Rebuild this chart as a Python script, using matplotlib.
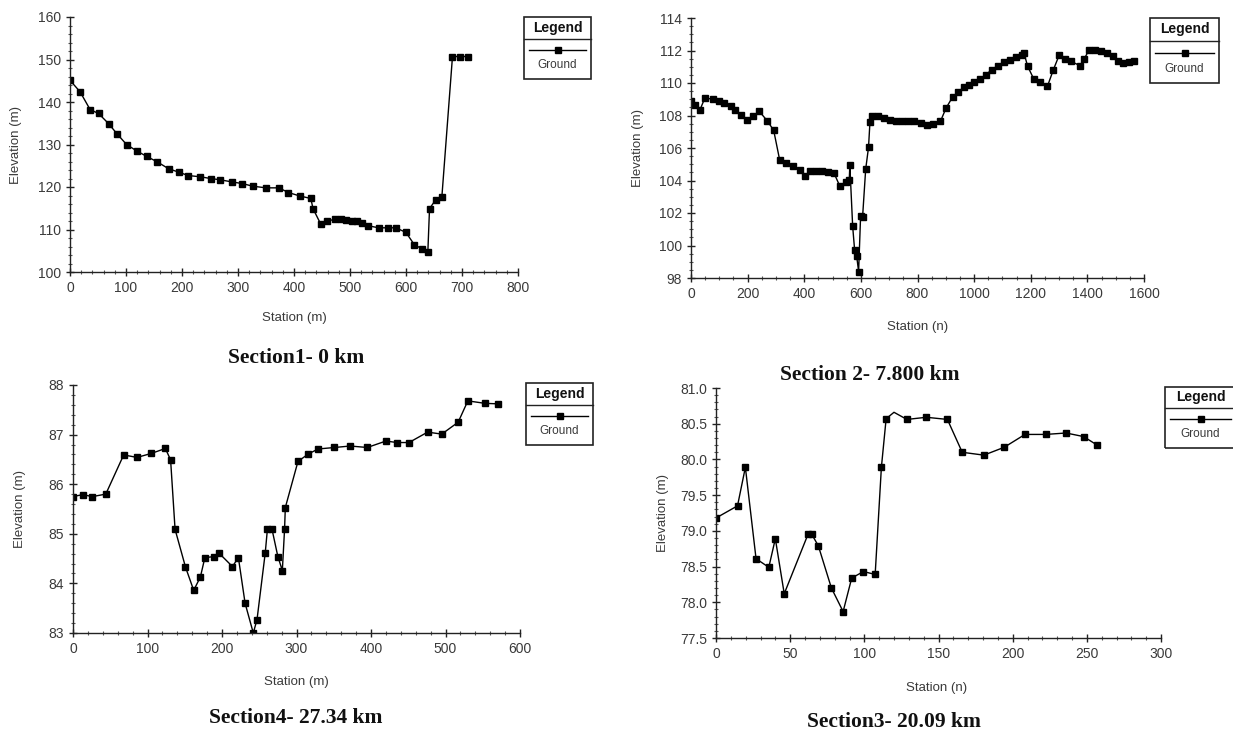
import matplotlib
matplotlib.use("Agg")
import matplotlib.pyplot as plt
from matplotlib.lines import Line2D
from matplotlib.patches import Rectangle
from matplotlib.ticker import MultipleLocator, FormatStrFormatter

W, H = 1233, 733

# Section1 - 0 km
s1_station = [0, 18, 36, 51, 69, 84, 101, 119, 137, 156, 176, 194, 211, 233, 251, 268,
              289, 308, 326, 350, 373, 390, 410, 430, 434, 448, 459, 474, 484, 493, 504,
              512, 521, 532, 551, 568, 582, 600, 615, 628, 639, 642, 653, 664, 683, 697, 711]
s1_elev = [145.1, 142.4, 138.2, 137.3, 134.9, 132.5, 130.0, 128.5, 127.2, 125.9, 124.3,
           123.5, 122.7, 122.4, 122.0, 121.7, 121.2, 120.8, 120.2, 119.8, 119.8, 118.7,
           117.9, 117.3, 114.9, 111.2, 111.9, 112.5, 112.4, 112.2, 112.0, 112.0, 111.5,
           110.9, 110.4, 110.4, 110.4, 109.3, 106.4, 105.5, 104.7, 114.9, 117.0, 117.6,
           150.7, 150.7, 150.7]

# Section 2 - 7.800 km
s2_station = [0, 14, 32, 49, 77, 98, 116, 140, 157, 175, 199, 220, 241, 269, 292, 313, 337,
              361, 386, 403, 421, 442, 463, 484, 505, 526, 547, 559, 561, 571, 578, 585, 592,
              599, 606, 617, 627, 632, 639, 660, 681, 702, 723, 744, 765, 786, 811, 832, 853,
              881, 901, 924, 944, 963, 982, 1001, 1022, 1041, 1063, 1084, 1105, 1126, 1147,
              1168, 1176, 1189, 1210, 1231, 1259, 1280, 1301, 1322, 1343, 1373, 1389, 1406,
              1427, 1449, 1470, 1491, 1509, 1527, 1547, 1565]
s2_elev = [108.87, 108.67, 108.36, 109.08, 109.0, 108.9, 108.8, 108.56, 108.36, 108.05,
           107.7, 107.95, 108.26, 107.68, 107.09, 105.28, 105.08, 104.87, 104.63, 104.26,
           104.6, 104.6, 104.56, 104.5, 104.46, 103.64, 103.89, 104.05, 104.93, 101.18,
           99.7, 99.37, 98.4, 101.8, 101.75, 104.7, 106.04, 107.58, 107.99, 107.95, 107.85,
           107.74, 107.64, 107.64, 107.64, 107.64, 107.54, 107.44, 107.5, 107.64, 108.46,
           109.14, 109.43, 109.75, 109.9, 110.04, 110.25, 110.51, 110.82, 111.07, 111.27,
           111.44, 111.58, 111.74, 111.85, 111.03, 110.27, 110.06, 109.8, 110.82, 111.74,
           111.48, 111.33, 111.07, 111.48, 112.05, 112.05, 112.0, 111.85, 111.64, 111.33,
           111.23, 111.27, 111.33]

# Section4 - 27.34 km
s4_station = [0, 13, 26, 44, 68, 86, 105, 124, 131, 137, 151, 162, 171, 177, 189, 196, 214,
              222, 231, 242, 247, 258, 261, 267, 275, 281, 284, 285, 302, 316, 329, 351, 372,
              395, 420, 435, 451, 476, 495, 517, 530, 553, 571]
s4_elev = [85.75, 85.79, 85.75, 85.8, 86.59, 86.54, 86.62, 86.72, 86.49, 85.09, 84.33,
           83.86, 84.13, 84.52, 84.54, 84.61, 84.34, 84.52, 83.6, 83.0, 83.27, 84.61, 85.1,
           85.1, 84.54, 84.26, 85.1, 85.53, 86.46, 86.61, 86.71, 86.74, 86.77, 86.74, 86.87,
           86.84, 86.84, 87.05, 87.01, 87.25, 87.68, 87.63, 87.62]

# Section3 - 20.09 km
s3_station = [0, 14.5, 19.8, 27, 35.6, 40, 46, 62, 64.6, 69, 77.8, 85.7, 91.5, 99.4, 107.3,
              111.5, 114.7, 120, 128.7, 141.8, 156, 166, 180.6, 194.3, 208.3, 222.2, 236,
              247.8, 257]
s3_elev = [79.18, 79.35, 79.89, 78.61, 78.49, 78.89, 78.12, 78.95, 78.95, 78.79, 78.2,
           77.87, 78.34, 78.43, 78.39, 79.89, 80.57, 80.66, 80.56, 80.59, 80.56, 80.1, 80.06,
           80.17, 80.35, 80.35, 80.37, 80.32, 80.2]
s3_nomark = [17]  # bend at the top of the bank has no marker

plt.rcParams["font.family"] = ["Liberation Sans Narrow", "Liberation Sans", "DejaVu Sans"]

fig = plt.figure(figsize=(W / 100, H / 100), dpi=100)
fig.patch.set_facecolor("white")

TXT = "#3a3a3a"


def fx(x):
    return x / W


def fy(y):
    return 1 - y / H


def add_legend(x0, y0, x1, y1, ysep):
    fig.add_artist(Rectangle((fx(x0), fy(y1)), fx(x1 - x0), (y1 - y0) / H,
                             transform=fig.transFigure, fill=False, lw=1.2, ec="#222222"))
    fig.add_artist(Line2D([fx(x0), fx(x1)], [fy(ysep), fy(ysep)],
                          transform=fig.transFigure, lw=1.0, color="#222222"))
    xc = (x0 + x1) / 2
    fig.text(fx(xc), fy((y0 + ysep) / 2), "Legend", ha="center", va="center",
             fontsize=10, fontweight="bold", color="#111111")
    ys = ysep + (y1 - ysep) * 0.28
    fig.add_artist(Line2D([fx(x0 + 5), fx(x1 - 5)], [fy(ys), fy(ys)],
                          transform=fig.transFigure, lw=1.0, color="black"))
    fig.add_artist(Line2D([fx(xc)], [fy(ys)], transform=fig.transFigure, marker="s",
                          ms=4.5, color="black", lw=0))
    fig.text(fx(xc), fy(ysep + (y1 - ysep) * 0.66), "Ground", ha="center", va="center",
             fontsize=8.5, color=TXT)


def panel(box, st, el, xlim, ylim, xstep, xminor, ystep, yminor, yfmt,
          xlab, xlab_pos, ylab_x, title, title_pos, leg, markevery=None):
    l, t, r, b = box
    ax = fig.add_axes([fx(l), fy(b), (r - l) / W, (b - t) / H])
    ax.plot(st, el, color="black", lw=1.0, marker="s", ms=5, markevery=markevery)
    ax.set_xlim(*xlim)
    ax.set_ylim(*ylim)
    ax.xaxis.set_major_locator(MultipleLocator(xstep))
    ax.xaxis.set_minor_locator(MultipleLocator(xminor))
    ax.yaxis.set_major_locator(MultipleLocator(ystep))
    ax.yaxis.set_minor_locator(MultipleLocator(yminor))
    ax.yaxis.set_major_formatter(FormatStrFormatter(yfmt))
    for s in ["top", "right"]:
        ax.spines[s].set_visible(False)
    for s in ["left", "bottom"]:
        ax.spines[s].set_color("#222222")
        ax.spines[s].set_linewidth(1.0)
    ax.tick_params(which="major", direction="inout", length=6, width=1.0,
                   labelsize=10, labelcolor=TXT, color="#222222")
    ax.tick_params(which="minor", direction="inout", length=3, width=0.8, color="#555555")
    ax.patch.set_alpha(0)
    fig.text(fx(xlab_pos[0]), fy(xlab_pos[1]), xlab, ha="center", va="center",
             fontsize=9.5, color=TXT)
    fig.text(fx(ylab_x), fy((t + b) / 2), "Elevation (m)", ha="center", va="center",
             rotation=90, fontsize=9.5, color=TXT)
    fig.text(fx(title_pos[0]), fy(title_pos[1]), title, ha="center", va="center",
             fontsize=15.5, fontweight="bold", family="Liberation Serif", color="#111111")
    add_legend(*leg)
    return ax


panel((70, 17, 518, 272), s1_station, s1_elev, (0, 800), (100, 160), 100, 20, 10, 2, "%d",
      "Station (m)", (294, 318), 16, "Section1- 0 km", (296, 358),
      (524, 17, 591, 79, 39))

panel((691, 18, 1144, 278), s2_station, s2_elev, (0, 1600), (98, 114), 200, 50, 2, 0.5, "%d",
      "Station (n)", (918, 327), 638, "Section 2- 7.800 km", (870, 375),
      (1150, 18, 1219, 83, 41))

panel((73, 385, 520, 633), s4_station, s4_elev, (0, 600), (83, 88), 100, 20, 1, 0.2, "%d",
      "Station (m)", (296, 682), 20, "Section4- 27.34 km", (296, 718),
      (526, 383, 593, 445, 405))

mark3 = [i for i in range(len(s3_station)) if i not in s3_nomark]
panel((716, 388, 1161, 638), s3_station, s3_elev, (0, 300), (77.5, 81.0), 50, 10, 0.5, 0.1, "%.1f",
      "Station (n)", (937, 688), 663, "Section3- 20.09 km", (894, 722),
      (1165, 387, 1236, 448, 408), markevery=mark3)

fig.savefig("out.png", dpi=100)
